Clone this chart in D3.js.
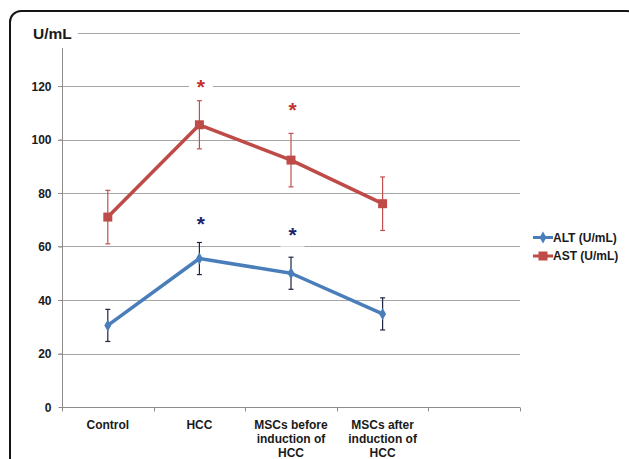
<!DOCTYPE html>
<html>
<head>
<meta charset="utf-8">
<script src="https://cdn.jsdelivr.net/npm/d3@7"></script>
<style>
  html, body { margin: 0; padding: 0; background: #fff; }
  svg { display: block; }
  text { font-family: "Liberation Sans", Arial, sans-serif; }
</style>
</head>
<body>
<svg id="chart" width="629" height="459"></svg>
<script>
// ---- data ----
const categories = ["Control", "HCC", "MSCs before induction of HCC", "MSCs after induction of HCC", ""];
const categoryLines = [["Control"], ["HCC"], ["MSCs before", "induction of", "HCC"], ["MSCs after", "induction of", "HCC"], []];
const altValues = [30.5, 55.5, 50.0, 34.8];
const altErrors = [6, 6, 6, 6];
const astValues = [71.0, 105.5, 92.3, 76.0];
const astErrors = [10, 9, 10, 10];
const altStarY = [null, 69.5, 65.2, null];
const astStarY = [null, 120.7, 111.8, null];
const yTicks = [0, 20, 40, 60, 80, 100, 120, 140];
const yTickLabels = ["0", "20", "40", "60", "80", "100", "120", ""];
const seriesNames = ["ALT (U/mL)", "AST (U/mL)"];
const yTitle = "U/mL";

// ---- layout ----
const svg = d3.select("#chart");
const colAlt = "#4A7EBB", colAst = "#BE4B48";
const colAltErr = "#1f2440", colAstErr = "#C0504D";
const colAltStar = "#1F1F6B", colAstStar = "#C4302B";
const plot = { left: 62, right: 520, top: 32.5, bottom: 407 };

const x = d3.scaleBand().domain(categories.map((c, i) => i)).range([plot.left, plot.right]).padding(0);
const xc = i => x(i) + x.bandwidth() / 2;
const y = d3.scaleLinear().domain([0, 140]).range([plot.bottom, plot.top]);

// border
svg.append("rect").attr("x", 10).attr("y", 11).attr("width", 628).attr("height", 470)
  .attr("rx", 11).attr("fill", "none").attr("stroke", "#151515").attr("stroke-width", 2);

// gridlines
const grid = svg.append("g");
grid.selectAll("line").data(yTicks.filter(t => t > 0)).join("line")
  .attr("x1", plot.left - 4).attr("x2", plot.right)
  .attr("y1", d => Math.round(y(d)) + 0.5).attr("y2", d => Math.round(y(d)) + 0.5)
  .attr("stroke", "#a6a6a6").attr("stroke-width", 1);

// y axis
const yAxis = d3.axisLeft(y).tickValues(yTicks).tickSize(4).tickFormat((d, i) => yTickLabels[i]);
const gy = svg.append("g").attr("transform", `translate(${plot.left + 0.5},0)`).call(yAxis);
gy.select(".domain").attr("stroke", "#8c8c8c").attr("d", `M-4,${y(140)}H0V${plot.bottom}`);
gy.selectAll(".tick line").attr("stroke", "#8c8c8c");
gy.selectAll(".tick text").attr("x", -11).attr("dy", "0.36em")
  .attr("font-size", 12).attr("font-weight", "bold").attr("fill", "#1a1a1a");

// x axis
const gx = svg.append("g").attr("transform", `translate(0,${Math.round(plot.bottom) + 0.5})`);
gx.append("line").attr("x1", plot.left).attr("x2", plot.right).attr("stroke", "#8c8c8c");
const xTickPos = categories.map((c, i) => x(i)).concat([plot.right]);
gx.selectAll("line.tk").data(xTickPos).join("line").attr("class", "tk")
  .attr("x1", d => Math.round(d) + 0.5).attr("x2", d => Math.round(d) + 0.5)
  .attr("y1", 0).attr("y2", 4).attr("stroke", "#8c8c8c");
categoryLines.forEach((lines, i) => {
  const t = gx.append("text").attr("x", xc(i)).attr("y", 21.5).attr("text-anchor", "middle")
    .attr("font-size", 12).attr("font-weight", "bold").attr("fill", "#1a1a1a");
  lines.forEach((l, j) => t.append("tspan").attr("x", xc(i)).attr("dy", j === 0 ? 0 : 13.8).text(l));
});

// y title with white box
svg.append("rect").attr("x", 28).attr("y", 20).attr("width", 50).attr("height", 28).attr("fill", "#fff");
svg.append("text").attr("x", 33).attr("y", 38.5).attr("font-size", 15.5).attr("font-weight", "bold")
  .attr("fill", "#1a1a1a").text(yTitle);

// series
function drawSeries(vals, errs, color, errColor, marker) {
  const g = svg.append("g");
  vals.forEach((v, i) => {
    const cx = xc(i);
    g.append("line").attr("x1", cx).attr("x2", cx).attr("y1", y(v + errs[i])).attr("y2", y(v - errs[i]))
      .attr("stroke", errColor).attr("stroke-width", 1.2);
    [v + errs[i], v - errs[i]].forEach(e => g.append("line").attr("x1", cx - 2.5).attr("x2", cx + 2.5)
      .attr("y1", y(e)).attr("y2", y(e)).attr("stroke", errColor).attr("stroke-width", 1.2));
  });
  g.append("path").datum(vals)
    .attr("d", d3.line().x((d, i) => xc(i)).y(d => y(d)))
    .attr("fill", "none").attr("stroke", color).attr("stroke-width", 3.5).attr("stroke-linejoin", "round");
  g.selectAll("path.m").data(vals).join("path").attr("class", "m")
    .attr("transform", (d, i) => `translate(${xc(i)},${y(d)})`)
    .attr("d", marker).attr("fill", color);
}
const diamond = d3.symbol().type(d3.symbolDiamond).size(42)();
const square = "M-4.5,-4.5H4.5V4.5H-4.5Z";
drawSeries(astValues, astErrors, colAst, colAstErr, square);
drawSeries(altValues, altErrors, colAlt, colAltErr, diamond);

// significance asterisks
function drawStars(pos, color) {
  pos.forEach((p, i) => {
    if (p == null) return;
    const cy = y(p), cx = xc(i) + 1.5;
    svg.append("rect").attr("x", cx - 12).attr("y", cy - 10).attr("width", 24).attr("height", 24).attr("fill", "#fff");
    svg.append("text").attr("x", cx).attr("y", cy + 9.5).attr("text-anchor", "middle")
      .attr("font-size", 21).attr("font-weight", "bold").attr("fill", color).text("*");
  });
}
drawStars(astStarY, colAstStar);
drawStars(altStarY, colAltStar);

// legend
const legend = svg.append("g");
[[colAlt, diamond], [colAst, square]].forEach((s, i) => {
  const ly = 237.5 + i * 18.5;
  legend.append("line").attr("x1", 533).attr("x2", 553).attr("y1", ly).attr("y2", ly)
    .attr("stroke", s[0]).attr("stroke-width", 3);
  legend.append("path").attr("transform", `translate(543,${ly})`).attr("d", s[1]).attr("fill", s[0]);
  legend.append("text").attr("x", 553).attr("y", ly).attr("dy", "0.36em")
    .attr("font-size", 12).attr("font-weight", "bold").attr("fill", "#1a1a1a").text(seriesNames[i]);
});
</script>
</body>
</html>
